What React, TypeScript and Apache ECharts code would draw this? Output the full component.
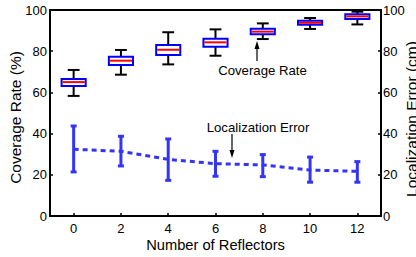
import React, { useEffect, useRef } from "react";
import * as echarts from "echarts";

const reflectors = [0, 2, 4, 6, 8, 10, 12];
// coverage rate box stats: [low, q1, median, q3, high]
const coverageLow = [58.3, 68.6, 73.6, 77.8, 85.9, 90.8, 93.0];
const coverageQ1 = [63.1, 73.3, 78.2, 82.2, 88.2, 92.9, 95.6];
const coverageMed = [65.0, 75.4, 80.7, 84.3, 89.5, 93.8, 96.9];
const coverageQ3 = [66.5, 77.3, 83.0, 86.1, 90.9, 94.8, 97.9];
const coverageHigh = [70.9, 80.6, 89.2, 90.6, 93.5, 96.1, 99.2];
// localization error: mean, lower, upper
const errMean = [32.4, 31.4, 27.5, 25.4, 24.8, 22.3, 21.7];
const errLow = [21.4, 24.3, 17.3, 19.3, 19.1, 16.4, 16.4];
const errHigh = [43.7, 38.7, 37.4, 31.4, 29.8, 28.6, 26.4];
const xTicks = [0, 2, 4, 6, 8, 10, 12];

const FONT = "'Liberation Sans', Arial, Helvetica, sans-serif";
const BLUE_ERR = "#3434f6";

export default function App() {
  const ref = useRef<HTMLDivElement>(null);
  useEffect(() => {
    if (!ref.current) return;
    const chart = echarts.init(ref.current, null, { renderer: "svg" });
    const boxData = reflectors.map((x, i) => [x, coverageLow[i], coverageQ1[i], coverageMed[i], coverageQ3[i], coverageHigh[i]]);
    const errData = reflectors.map((x, i) => [x, errMean[i], errLow[i], errHigh[i]]);
    const lineData = reflectors.map((x, i) => [x, errMean[i]]);

    const axisCommon = {
      axisLine: { show: true, onZero: false, lineStyle: { color: "#000", width: 2 } },
      axisTick: { show: true, inside: true, length: 3, lineStyle: { color: "#000", width: 1.5 } },
      splitLine: { show: false },
      axisLabel: { color: "#000", fontFamily: FONT, fontSize: 13 },
    };

    chart.setOption({
      animation: false,
      grid: { left: 50, right: 35, top: 10, bottom: 41, show: true, borderColor: "#000", borderWidth: 2, backgroundColor: "transparent" },
      xAxis: {
        type: "value",
        min: -1,
        max: 13,
        ...axisCommon,
        axisTick: { ...axisCommon.axisTick, customValues: xTicks },
        axisLabel: { ...axisCommon.axisLabel, customValues: xTicks, margin: 6 },
      },
      yAxis: [
        {
          type: "value",
          min: 0,
          max: 100,
          interval: 20,
          position: "left",
          ...axisCommon,
          axisLabel: { ...axisCommon.axisLabel, margin: 3 },
        },
        {
          type: "value",
          min: 0,
          max: 100,
          interval: 20,
          position: "right",
          ...axisCommon,
          axisLabel: { ...axisCommon.axisLabel, margin: 2 },
        },
      ],
      series: [
        {
          type: "custom",
          name: "Coverage Rate",
          xAxisIndex: 0,
          yAxisIndex: 0,
          data: boxData,
          encode: { x: 0, y: [1, 2, 3, 4, 5] },
          renderItem: (params: any, api: any) => {
            const x = api.value(0);
            const lo = api.coord([x, api.value(1)]);
            const q1 = api.coord([x, api.value(2)]);
            const md = api.coord([x, api.value(3)]);
            const q3 = api.coord([x, api.value(4)]);
            const hi = api.coord([x, api.value(5)]);
            const unit = api.size([1, 0])[0];
            const bw = unit * 1.02;
            const cw = unit * 0.5;
            const cx = lo[0];
            const k = { stroke: "#000", lineWidth: 2 };
            return {
              type: "group",
              children: [
                { type: "line", shape: { x1: cx, y1: hi[1], x2: cx, y2: q3[1] }, style: k },
                { type: "line", shape: { x1: cx, y1: q1[1], x2: cx, y2: lo[1] }, style: k },
                { type: "line", shape: { x1: cx - cw / 2, y1: hi[1], x2: cx + cw / 2, y2: hi[1] }, style: k },
                { type: "line", shape: { x1: cx - cw / 2, y1: lo[1], x2: cx + cw / 2, y2: lo[1] }, style: k },
                {
                  type: "rect",
                  shape: { x: cx - bw / 2, y: q3[1], width: bw, height: q1[1] - q3[1] },
                  style: { fill: "#fff", stroke: "#0000ff", lineWidth: 2 },
                },
                { type: "line", shape: { x1: cx - bw / 2 + 1, y1: md[1], x2: cx + bw / 2 - 1, y2: md[1] }, style: { stroke: "#ff0000", lineWidth: 2 } },
              ],
            };
          },
          z: 3,
        },
        {
          type: "line",
          name: "Localization Error",
          xAxisIndex: 0,
          yAxisIndex: 1,
          data: lineData,
          symbol: "none",
          lineStyle: { color: BLUE_ERR, width: 3, type: [5, 4] },
          z: 2,
        },
        {
          type: "custom",
          name: "Localization Error Bars",
          xAxisIndex: 0,
          yAxisIndex: 1,
          data: errData,
          encode: { x: 0, y: [1, 2, 3] },
          renderItem: (params: any, api: any) => {
            const x = api.value(0);
            const lo = api.coord([x, api.value(2)]);
            const hi = api.coord([x, api.value(3)]);
            const cx = lo[0];
            const cw = 6;
            const s = { stroke: BLUE_ERR, lineWidth: 3 };
            return {
              type: "group",
              children: [
                { type: "line", shape: { x1: cx, y1: hi[1], x2: cx, y2: lo[1] }, style: s },
                { type: "line", shape: { x1: cx - cw / 2, y1: hi[1], x2: cx + cw / 2, y2: hi[1] }, style: s },
                { type: "line", shape: { x1: cx - cw / 2, y1: lo[1], x2: cx + cw / 2, y2: lo[1] }, style: s },
              ],
            };
          },
          z: 3,
        },
      ],
      graphic: [
        {
          type: "text",
          x: 15,
          y: 117.5,
          rotation: Math.PI / 2,
          style: { text: "Coverage Rate (%)", fill: "#000", font: `15.5px ${FONT}`, align: "center", verticalAlign: "middle" },
        },
        {
          type: "text",
          x: 411,
          y: 119,
          rotation: Math.PI / 2,
          style: { text: "Localization Error (cm)", fill: "#000", font: `15.5px ${FONT}`, align: "center", verticalAlign: "middle" },
        },
        {
          type: "text",
          x: 215.5,
          y: 245,
          style: { text: "Number of Reflectors", fill: "#000", font: `14.7px ${FONT}`, align: "center", verticalAlign: "middle" },
        },
        {
          type: "text",
          x: 262.5,
          y: 70.5,
          style: { text: "Coverage Rate", fill: "#000", font: `13.2px ${FONT}`, align: "center", verticalAlign: "middle" },
        },
        { type: "line", shape: { x1: 257, y1: 44, x2: 257, y2: 61 }, style: { stroke: "#000", lineWidth: 1.2 } },
        { type: "polygon", shape: { points: [[257, 41], [254.5, 49], [259.5, 49]] }, style: { fill: "#000" } },
        {
          type: "text",
          x: 258,
          y: 127.5,
          style: { text: "Localization Error", fill: "#000", font: `13.2px ${FONT}`, align: "center", verticalAlign: "middle" },
        },
        { type: "line", shape: { x1: 232, y1: 134, x2: 232, y2: 155 }, style: { stroke: "#000", lineWidth: 1.2 } },
        { type: "polygon", shape: { points: [[232, 158], [229.5, 150], [234.5, 150]] }, style: { fill: "#000" } },
      ],
    });
    return () => chart.dispose();
  }, []);
  return <div ref={ref} style={{ width: 416, height: 257, position: "absolute", left: 0, top: 0 }} />;
}
